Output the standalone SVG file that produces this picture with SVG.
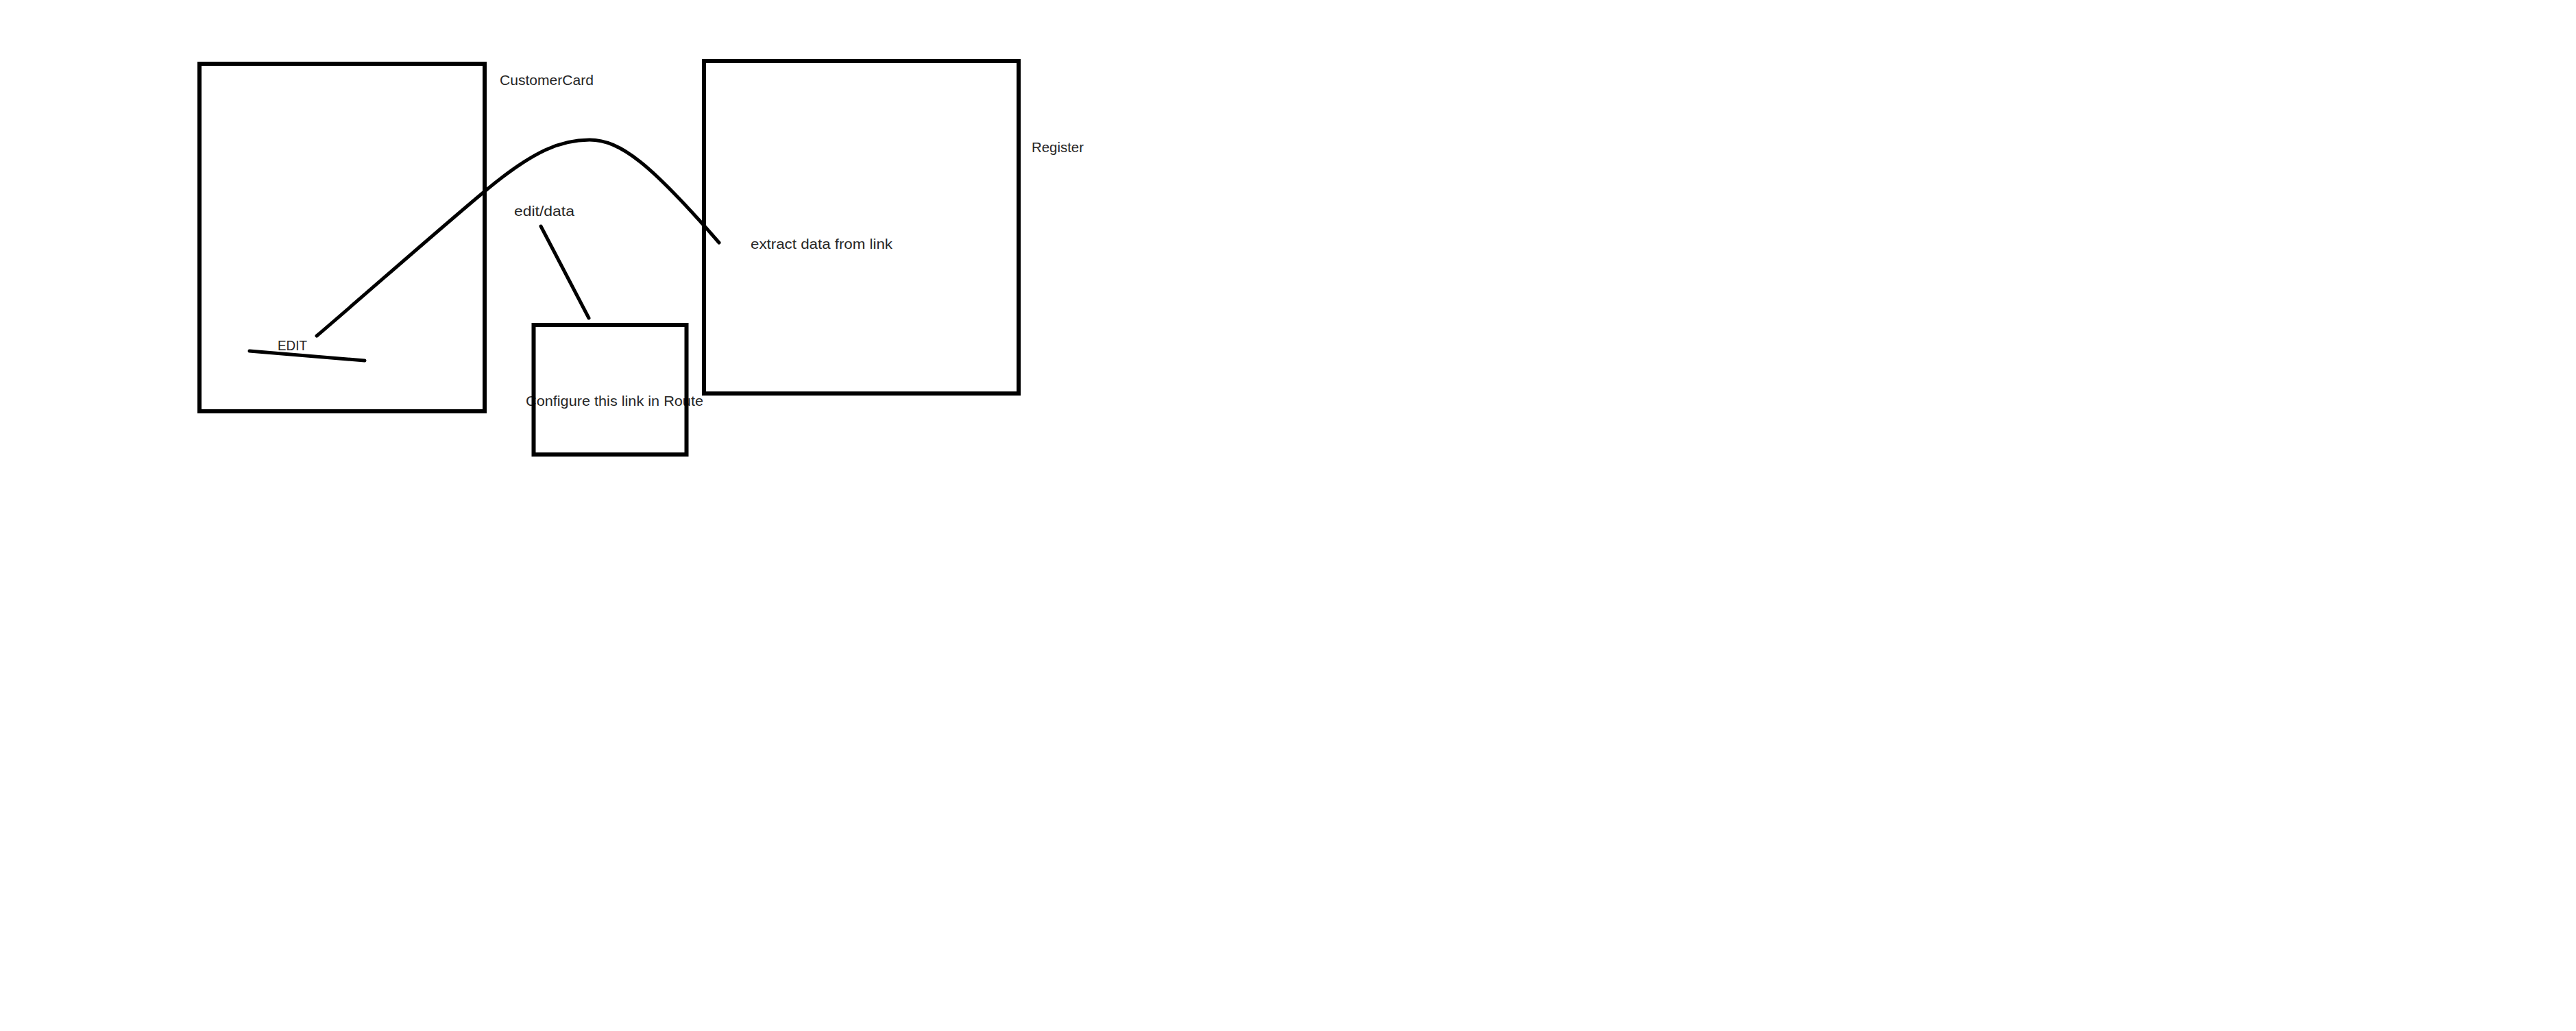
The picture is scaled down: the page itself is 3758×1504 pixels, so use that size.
<svg xmlns="http://www.w3.org/2000/svg" width="3758" height="1504" viewBox="0 0 3758 1504">
<style>
.box{fill:none;stroke:#000;stroke-width:6}
.ln{fill:none;stroke:#000;stroke-width:5;stroke-linecap:round;stroke-linejoin:round}
.t{font-family:"Liberation Sans",Arial,sans-serif;font-size:21px;fill:#262626}
</style>
<rect width="3758" height="1504" fill="#fff"/>
<g id="customer-card">
<rect class="box" x="291" y="93" width="416" height="507"/>
<text class="t" x="729" y="124" textLength="137" lengthAdjust="spacingAndGlyphs">CustomerCard</text>
</g>
<g id="edit">
<text class="t" x="405" y="511" textLength="43" lengthAdjust="spacingAndGlyphs">EDIT</text>
<line class="ln" x1="364" y1="512" x2="532" y2="526"/>
</g>
<g id="register">
<rect class="box" x="1027" y="89" width="459" height="485"/>
<text class="t" x="1505" y="222" textLength="76" lengthAdjust="spacingAndGlyphs">Register</text>
<text class="t" x="1095" y="363" textLength="207" lengthAdjust="spacingAndGlyphs">extract data from link</text>
</g>
<g id="route-config">
<text class="t" x="767" y="592" textLength="259" lengthAdjust="spacingAndGlyphs">Configure this link in Route</text>
<rect class="box" x="778.5" y="474" width="223" height="189"/>
</g>
<g id="edit-data-label">
<text class="t" x="750" y="315" textLength="88" lengthAdjust="spacingAndGlyphs">edit/data</text>
</g>
<g id="connectors">
<path class="ln" d="M462,490 C530,432 640,335 706,280 C780,218 820,204 860,204 C905,204 950,240 1049,354"/>
<line class="ln" x1="789" y1="330" x2="859" y2="464"/>
</g>
</svg>
